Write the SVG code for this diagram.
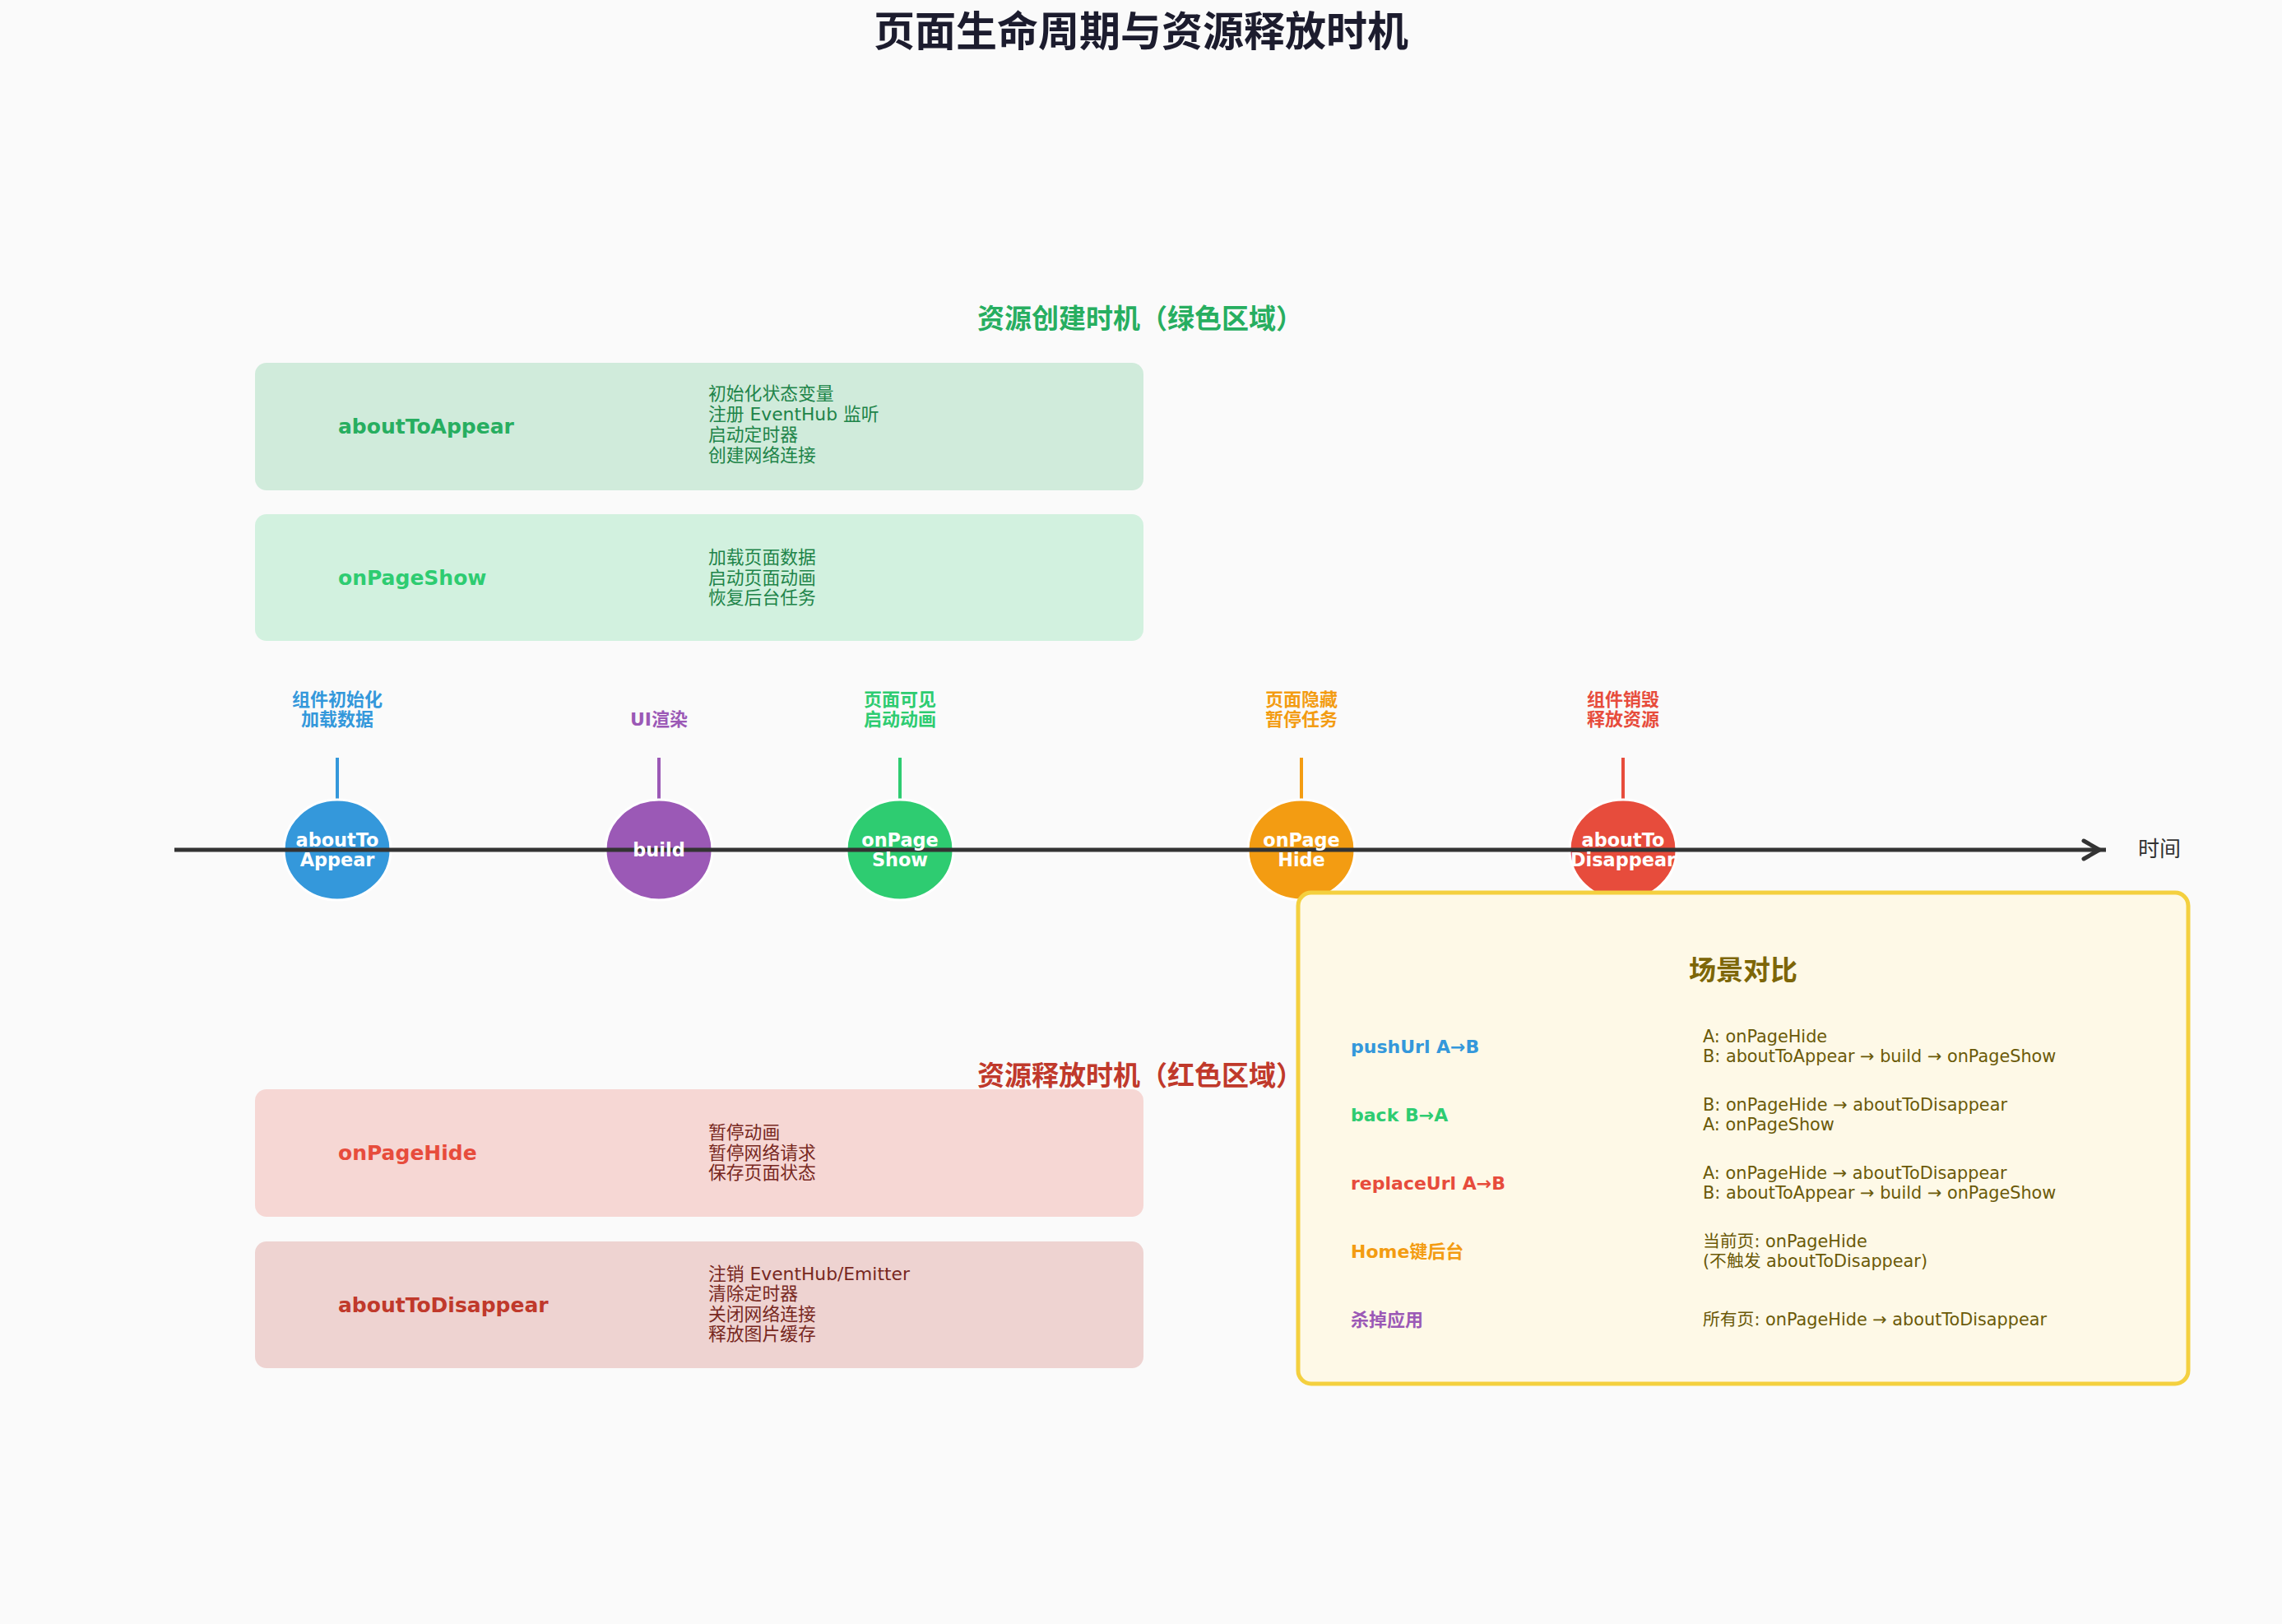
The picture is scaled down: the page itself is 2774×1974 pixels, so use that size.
<svg xmlns="http://www.w3.org/2000/svg" width="2774" height="1974" viewBox="0 0 2774 1974">
<style>
text{font-family:"DejaVu Sans","Noto Sans CJK SC",sans-serif;dominant-baseline:central;}
.title{font-size:50px;font-weight:bold;fill:#1c1c2e;text-anchor:middle;}
.sec{font-size:33px;font-weight:bold;text-anchor:middle;}
.blabel{font-size:25px;font-weight:bold;}
.desc{font-size:21.8px;}
.tl{font-size:22px;font-weight:bold;text-anchor:middle;}
.ct{font-size:22.4px;font-weight:bold;fill:#ffffff;text-anchor:middle;}
.stem{stroke-width:4;}
.node{stroke:#ffffff;stroke-width:3;}
.slabel{font-size:22px;font-weight:bold;}
.sdesc{font-size:20.8px;fill:#6b5a08;}
</style>
<rect x="0" y="0" width="2774" height="1974" fill="#fafafa"/>
<text class="title" x="1387" y="39">页面生命周期与资源释放时机</text>

<g id="creation-title"><text class="sec" x="1386" y="387" fill="#27ae60">资源创建时机（绿色区域）</text></g>

<g id="box-aboutToAppear">
<rect x="310" y="441" width="1080" height="155" rx="14" fill="#d0ebdb"/>
<text class="blabel" x="411" y="518" fill="#27ae60">aboutToAppear</text>
<text class="desc" fill="#1e8449"><tspan x="861" y="478">初始化状态变量</tspan><tspan x="861" y="503">注册 EventHub 监听</tspan><tspan x="861" y="528">启动定时器</tspan><tspan x="861" y="553">创建网络连接</tspan></text>
</g>
<g id="box-onPageShow">
<rect x="310" y="625" width="1080" height="154" rx="14" fill="#d2f1df"/>
<text class="blabel" x="411" y="702" fill="#2ecc71">onPageShow</text>
<text class="desc" fill="#1e8449"><tspan x="861" y="677">加载页面数据</tspan><tspan x="861" y="702">启动页面动画</tspan><tspan x="861" y="726">恢复后台任务</tspan></text>
</g>

<g id="connectors">
<line x1="410" y1="921" x2="410" y2="972" stroke="#3498db" class="stem"/>
<line x1="801" y1="921" x2="801" y2="972" stroke="#9b59b6" class="stem"/>
<line x1="1094" y1="921" x2="1094" y2="972" stroke="#2ecc71" class="stem"/>
<line x1="1582" y1="921" x2="1582" y2="972" stroke="#f39c12" class="stem"/>
<line x1="1973" y1="921" x2="1973" y2="972" stroke="#e74c3c" class="stem"/>
</g>

<g id="node-aboutToAppear">
<ellipse cx="410" cy="1033" rx="65" ry="61" fill="#3498db" class="node"/>
<text class="tl" fill="#3498db"><tspan x="410" y="850">组件初始化</tspan><tspan x="410" y="874">加载数据</tspan></text>
</g>
<g id="node-build">
<ellipse cx="801" cy="1033" rx="65" ry="61" fill="#9b59b6" class="node"/>
<text class="tl" x="801" y="874" fill="#9b59b6">UI渲染</text>
</g>
<g id="node-onPageShow">
<ellipse cx="1094" cy="1033" rx="65" ry="61" fill="#2ecc71" class="node"/>
<text class="tl" fill="#2ecc71"><tspan x="1094" y="850">页面可见</tspan><tspan x="1094" y="874">启动动画</tspan></text>
</g>
<g id="node-onPageHide">
<ellipse cx="1582" cy="1033" rx="65" ry="61" fill="#f39c12" class="node"/>
<text class="tl" fill="#f39c12"><tspan x="1582" y="850">页面隐藏</tspan><tspan x="1582" y="874">暂停任务</tspan></text>
</g>
<g id="node-aboutToDisappear">
<ellipse cx="1973" cy="1033" rx="65" ry="61" fill="#e74c3c" class="node"/>
<text class="tl" fill="#e74c3c"><tspan x="1973" y="850">组件销毁</tspan><tspan x="1973" y="874">释放资源</tspan></text>
</g>

<g id="timeline">
<line x1="212" y1="1033" x2="2560" y2="1033" stroke="#333333" stroke-width="5"/>
<path d="M2533,1022 L2552,1033 L2533,1044" fill="none" stroke="#333333" stroke-width="5" stroke-linejoin="round" stroke-linecap="round"/>
<text x="2625" y="1032" font-size="26" fill="#333333" text-anchor="middle">时间</text>
</g>

<g id="node-labels">
<text class="ct"><tspan x="410" y="1021">aboutTo</tspan><tspan x="410" y="1045">Appear</tspan></text>
<text class="ct" x="801" y="1033">build</text>
<text class="ct"><tspan x="1094" y="1021">onPage</tspan><tspan x="1094" y="1045">Show</tspan></text>
<text class="ct"><tspan x="1582" y="1021">onPage</tspan><tspan x="1582" y="1045">Hide</tspan></text>
<text class="ct"><tspan x="1973" y="1021">aboutTo</tspan><tspan x="1973" y="1045">Disappear</tspan></text>
</g>

<g id="release-title"><text class="sec" x="1386" y="1307" fill="#c0392b">资源释放时机（红色区域）</text></g>

<g id="box-onPageHide">
<rect x="310" y="1324" width="1080" height="155" rx="14" fill="#f6d7d4"/>
<text class="blabel" x="411" y="1401" fill="#e74c3c">onPageHide</text>
<text class="desc" fill="#78281f"><tspan x="861" y="1376">暂停动画</tspan><tspan x="861" y="1401">暂停网络请求</tspan><tspan x="861" y="1425">保存页面状态</tspan></text>
</g>
<g id="box-aboutToDisappear">
<rect x="310" y="1509" width="1080" height="154" rx="14" fill="#eed3d1"/>
<text class="blabel" x="411" y="1586" fill="#c0392b">aboutToDisappear</text>
<text class="desc" fill="#78281f"><tspan x="861" y="1548">注销 EventHub/Emitter</tspan><tspan x="861" y="1572">清除定时器</tspan><tspan x="861" y="1597">关闭网络连接</tspan><tspan x="861" y="1621">释放图片缓存</tspan></text>
</g>

<g id="scenario-box">
<rect x="1578" y="1085" width="1082" height="597" rx="16" fill="#fef9e7" stroke="#f4d03f" stroke-width="5"/>
<text x="2119" y="1179" font-size="33" font-weight="bold" fill="#7d6608" text-anchor="middle">场景对比</text>
<text class="slabel" x="1642" y="1272" fill="#3498db">pushUrl A→B</text>
<text class="sdesc"><tspan x="2070" y="1260">A: onPageHide</tspan><tspan x="2070" y="1284">B: aboutToAppear → build → onPageShow</tspan></text>
<text class="slabel" x="1642" y="1355" fill="#2ecc71">back B→A</text>
<text class="sdesc"><tspan x="2070" y="1343">B: onPageHide → aboutToDisappear</tspan><tspan x="2070" y="1367">A: onPageShow</tspan></text>
<text class="slabel" x="1642" y="1438" fill="#e74c3c">replaceUrl A→B</text>
<text class="sdesc"><tspan x="2070" y="1426">A: onPageHide → aboutToDisappear</tspan><tspan x="2070" y="1450">B: aboutToAppear → build → onPageShow</tspan></text>
<text class="slabel" x="1642" y="1521" fill="#f39c12">Home键后台</text>
<text class="sdesc"><tspan x="2070" y="1509">当前页: onPageHide</tspan><tspan x="2070" y="1533">(不触发 aboutToDisappear)</tspan></text>
<text class="slabel" x="1642" y="1604" fill="#9b59b6">杀掉应用</text>
<text class="sdesc" x="2070" y="1604">所有页: onPageHide → aboutToDisappear</text>
</g>
</svg>
